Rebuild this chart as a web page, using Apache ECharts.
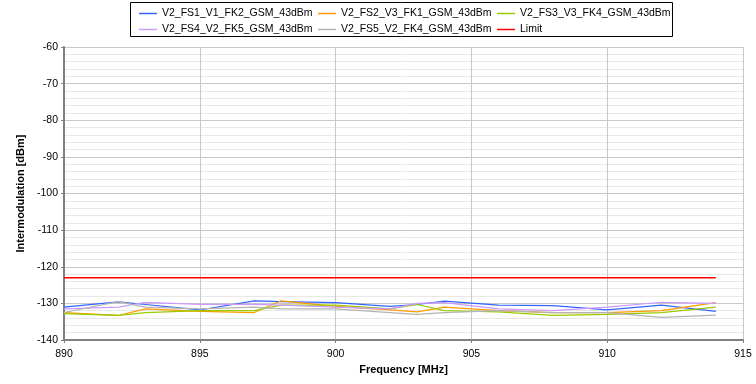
<!DOCTYPE html>
<html>
<head>
<meta charset="utf-8">
<script src="https://cdn.jsdelivr.net/npm/echarts@6/dist/echarts.min.js"></script>
<style>
  html, body { margin: 0; padding: 0; background: #fff; }
  #chart { width: 756px; height: 384px; }
</style>
</head>
<body>
<div id="chart"></div>
<script>
// measured frequencies (MHz)
var freq = [890, 892, 893, 895, 897, 898, 900, 902, 903, 904, 906, 908, 910, 912, 914];

// intermodulation readings (dBm)
var fs1 = [-131.0, -129.6, -130.3, -131.8, -129.3, -129.5, -129.8, -130.8, -130.3, -129.4, -130.5, -130.6, -131.8, -130.5, -132.2];
var fs2 = [-132.5, -133.3, -131.5, -132.2, -132.5, -129.3, -130.8, -131.8, -132.3, -131.0, -132.0, -132.5, -132.5, -132.0, -129.8];
var fs3 = [-132.8, -133.3, -132.5, -132.0, -132.0, -130.5, -130.5, -131.5, -130.3, -132.0, -132.3, -133.3, -133.0, -132.5, -131.0];
var fs4 = [-131.5, -131.0, -129.7, -130.3, -130.3, -130.5, -131.0, -131.5, -130.0, -129.8, -131.5, -132.0, -131.0, -129.7, -130.0];
var fs5 = [-132.5, -129.5, -131.0, -131.5, -131.0, -131.5, -131.5, -132.5, -133.0, -132.5, -132.0, -132.5, -132.5, -133.8, -133.2];
var limitFreq = [890, 914];
var limitVal = [-123, -123];

var names = [
  'V2_FS1_V1_FK2_GSM_43dBm',
  'V2_FS2_V3_FK1_GSM_43dBm',
  'V2_FS3_V3_FK4_GSM_43dBm',
  'V2_FS4_V2_FK5_GSM_43dBm',
  'V2_FS5_V2_FK4_GSM_43dBm',
  'Limit'
];
var colors = ['#3366ff', '#ff9900', '#99cc00', '#cc99ff', '#b4b4b4', '#ff0000'];

function pairs(xs, ys) {
  var res = [];
  for (var i = 0; i < xs.length; ++i) {
    res.push([xs[i], ys[i]]);
  }
  return res;
}

var values = [fs1, fs2, fs3, fs4, fs5];
var series = [];
for (var i = 0; i < values.length; ++i) {
  series.push({
    name: names[i],
    type: 'line',
    showSymbol: false,
    symbol: 'none',
    lineStyle: { width: 1.2, color: colors[i] },
    itemStyle: { color: colors[i] },
    data: pairs(freq, values[i])
  });
}
series.push({
  name: 'Limit',
  type: 'line',
  symbol: 'none',
  lineStyle: { width: 1.5, color: colors[5] },
  itemStyle: { color: colors[5] },
  data: pairs(limitFreq, limitVal)
});

var font = 'Liberation Sans, Arial, sans-serif';

// one legend per column so the two rows line up like the original
function legendCol(left, items) {
  return {
    orient: 'vertical',
    left: left,
    top: 7,
    padding: 0,
    itemWidth: 18,
    itemHeight: 1.5,
    itemGap: 3,
    icon: 'rect',
    selectedMode: false,
    data: items,
    textStyle: { fontFamily: font, fontSize: 10.5, color: '#000', lineHeight: 13 }
  };
}

var option = {
  animation: false,
  color: colors,
  grid: { left: 64, right: 13, top: 47, bottom: 44 },
  legend: [
    legendCol(139, [names[0], names[3]]),
    legendCol(318, [names[1], names[4]]),
    legendCol(497, [names[2], names[5]])
  ],
  graphic: [{
    type: 'rect',
    shape: { x: 130.5, y: 2.5, width: 542, height: 34 },
    style: { fill: 'none', stroke: '#000', lineWidth: 1 },
    z: 0
  }],
  xAxis: {
    type: 'value',
    min: 890,
    max: 915,
    interval: 5,
    name: 'Frequency [MHz]',
    nameLocation: 'middle',
    nameGap: 24,
    nameTextStyle: { fontFamily: font, fontSize: 11, fontWeight: 'bold', color: '#000' },
    axisLine: { onZero: false, lineStyle: { color: '#808080', width: 2 } },
    axisTick: { show: true, inside: false, length: 3, lineStyle: { color: '#808080' } },
    axisLabel: { fontFamily: font, fontSize: 10.5, color: '#000', margin: 9 },
    splitLine: { show: true, lineStyle: { color: '#c8c8c8', width: 1 } }
  },
  yAxis: {
    type: 'value',
    min: -140,
    max: -60,
    interval: 10,
    name: 'Intermodulation [dBm]',
    nameLocation: 'middle',
    nameGap: 37,
    nameTextStyle: { fontFamily: font, fontSize: 11, fontWeight: 'bold', color: '#000' },
    axisLine: { show: true, lineStyle: { color: '#808080', width: 2 } },
    axisTick: { show: true, inside: false, length: 3, lineStyle: { color: '#808080' } },
    axisLabel: { fontFamily: font, fontSize: 10.5, color: '#000', margin: 6 },
    splitLine: { show: true, lineStyle: { color: '#c8c8c8', width: 1 } },
    minorTick: { show: false, splitNumber: 5 },
    minorSplitLine: { show: true, lineStyle: { color: '#e8e8e8', width: 1 } }
  },
  series: series
};

var chart = echarts.init(document.getElementById('chart'));
chart.setOption(option);
</script>
</body>
</html>
